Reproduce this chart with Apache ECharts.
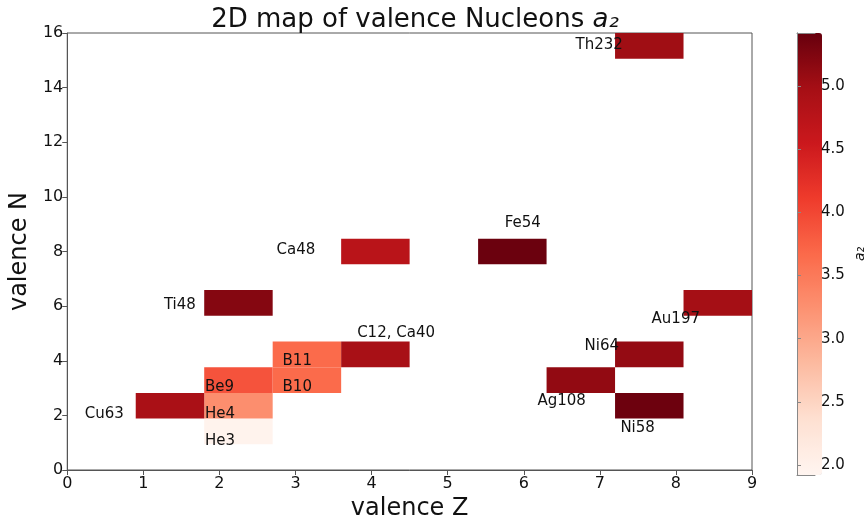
<!DOCTYPE html>
<html>
<head>
<meta charset="utf-8">
<script src="https://cdn.jsdelivr.net/npm/echarts@6/dist/echarts.min.js"></script>
<style>html,body{margin:0;padding:0;background:#fff}#c{width:868px;height:526px}</style>
</head>
<body>
<div id="c"></div>
<script>
// ---- data ----
const nuclei = ['He3','He4','Be9','B10','B11','C12, Ca40','Ti48','Ca48','Fe54','Cu63','Ni58','Ni64','Ag108','Au197','Th232'];
const zBin   = [2, 2, 2, 3, 3, 4, 2, 4, 6, 1, 8, 8, 7, 9, 8];      // valence-Z bin index (bin width 0.9)
const nBin   = [1, 2, 3, 3, 4, 4, 6, 8, 8, 2, 2, 4, 3, 6, 16];     // valence-N bin index (bin width 16/17)
const a2     = [1.96, 3.28, 3.88, 3.66, 3.66, 4.95, 5.21, 4.75, 5.39, 4.93, 5.38, 5.10, 5.12, 4.98, 5.02];
const labelZ = [1.81, 1.81, 1.81, 2.83, 2.83, 3.81, 1.27, 2.75, 5.75, 0.23, 7.27, 6.80, 6.18, 7.68, 6.68];
const labelN = [1.07, 2.04, 3.03, 3.03, 4.00, 5.02, 6.04, 8.04, 9.03, 2.04, 1.55, 4.52, 2.52, 5.53, 15.55];
const colorTicks = [2.0, 2.5, 3.0, 3.5, 4.0, 4.5, 5.0];
const a2Min = 1.92, a2Max = 5.42;
const zBinWidth = 0.9, nBinWidth = 16 / 17;
const reds = ['#fff5f0','#fee0d2','#fcbba1','#fc9272','#fb6a4a','#ef3b2c','#cb181d','#a50f15','#67000d'];

const cellData = nuclei.map((n, k) => [zBin[k], nBin[k], a2[k], n]);
const labelData = nuclei.map((n, k) => [labelZ[k], labelN[k], n]);

const font = 'DejaVu Sans';
const txt = '#111';
const axisCol = '#555';

const chart = echarts.init(document.getElementById('c'), null, {renderer: 'canvas'});
chart.setOption({
  animation: false,
  backgroundColor: '#fff',
  textStyle: {fontFamily: font},
  title: {
    text: '2D map of valence Nucleons {i|a₂}',
    left: 410, top: 2, textAlign: 'center',
    textStyle: {fontFamily: font, fontSize: 26, fontWeight: 'normal', color: txt,
      rich: {i: {fontFamily: font, fontSize: 26, fontStyle: 'italic', color: txt}}}
  },
  grid: [
    {left: 67, right: 116, top: 33, bottom: 51, show: true, borderColor: axisCol, borderWidth: 1, backgroundColor: 'transparent'},
    {left: 797, width: 25, top: 33, height: 442, show: false}
  ],
  xAxis: [
    {gridIndex: 0, type: 'value', min: 0, max: 9, interval: 1,
     name: 'valence Z', nameLocation: 'middle', nameGap: 27,
     nameTextStyle: {fontFamily: font, fontSize: 24, color: txt},
     axisLine: {show: true, lineStyle: {color: axisCol}},
     axisTick: {show: true, length: 5, lineStyle: {color: axisCol}},
     axisLabel: {fontFamily: font, fontSize: 16, color: txt, margin: 6},
     splitLine: {show: false}},
    {gridIndex: 1, type: 'value', min: 0, max: 1, position: 'bottom', z: 10,
     axisLine: {show: true, lineStyle: {color: '#888'}}, axisTick: {show: false}, axisLabel: {show: false}, splitLine: {show: false}},
    {gridIndex: 1, type: 'value', min: 0, max: 1, position: 'top', z: 10,
     axisLine: {show: true, lineStyle: {color: '#888'}}, axisTick: {show: false}, axisLabel: {show: false}, splitLine: {show: false}}
  ],
  yAxis: [
    {gridIndex: 0, type: 'value', min: 0, max: 16, interval: 2,
     name: 'valence N', nameLocation: 'middle', nameGap: 26, nameRotate: 90,
     nameTextStyle: {fontFamily: font, fontSize: 24, color: txt},
     axisLine: {show: true, lineStyle: {color: axisCol}},
     axisTick: {show: true, length: 5, lineStyle: {color: axisCol}},
     axisLabel: {fontFamily: font, fontSize: 16, color: txt, margin: 4},
     splitLine: {show: false}},
    {gridIndex: 1, type: 'value', min: a2Min, max: a2Max, position: 'right', z: 10,
     name: '{i|a₂}', nameLocation: 'middle', nameGap: 38, nameRotate: 90,
     nameTextStyle: {fontFamily: font, fontSize: 14, color: txt, rich: {i: {fontFamily: font, fontSize: 14, fontStyle: 'italic', color: txt}}},
     axisLine: {show: true, lineStyle: {color: '#888'}},
     axisTick: {show: true, length: 4, lineStyle: {color: '#888'}, customValues: colorTicks},
     axisLabel: {fontFamily: font, fontSize: 15, color: txt, margin: 6, customValues: colorTicks, formatter: v => v.toFixed(1)},
     splitLine: {show: false}},
    {gridIndex: 1, type: 'value', min: a2Min, max: a2Max, position: 'left', z: 10,
     axisLine: {show: true, lineStyle: {color: '#888'}}, axisTick: {show: false}, axisLabel: {show: false}, splitLine: {show: false}}
  ],
  visualMap: {
    type: 'continuous', min: a2Min, max: a2Max, dimension: 2, seriesIndex: 0,
    calculable: false, inRange: {color: reds},
    left: 797, top: 33, itemWidth: 25, itemHeight: 442, padding: 0,
    text: null, showLabel: false, handleSize: 0, indicatorSize: 0
  },
  series: [
    {
      type: 'custom', xAxisIndex: 0, yAxisIndex: 0, z: 2,
      encode: {x: 0, y: 1},
      data: cellData,
      renderItem: function (params, api) {
        const i = api.value(0), j = api.value(1);
        const p0 = api.coord([i * zBinWidth, (j + 1) * nBinWidth]);
        const p1 = api.coord([(i + 1) * zBinWidth, j * nBinWidth]);
        return {type: 'rect',
          shape: {x: p0[0], y: p0[1], width: p1[0] - p0[0], height: p1[1] - p0[1]},
          style: {fill: api.visual('color')}};
      }
    },
    {
      type: 'scatter', xAxisIndex: 0, yAxisIndex: 0, z: 5,
      symbolSize: 0, silent: true,
      itemStyle: {opacity: 1},
      data: labelData,
      label: {show: true, position: 'right', distance: 0, formatter: p => p.data[2], opacity: 1,
        fontFamily: font, fontSize: 15, color: txt, align: 'left', verticalAlign: 'middle'}
    }
  ]
});
</script>
</body>
</html>
